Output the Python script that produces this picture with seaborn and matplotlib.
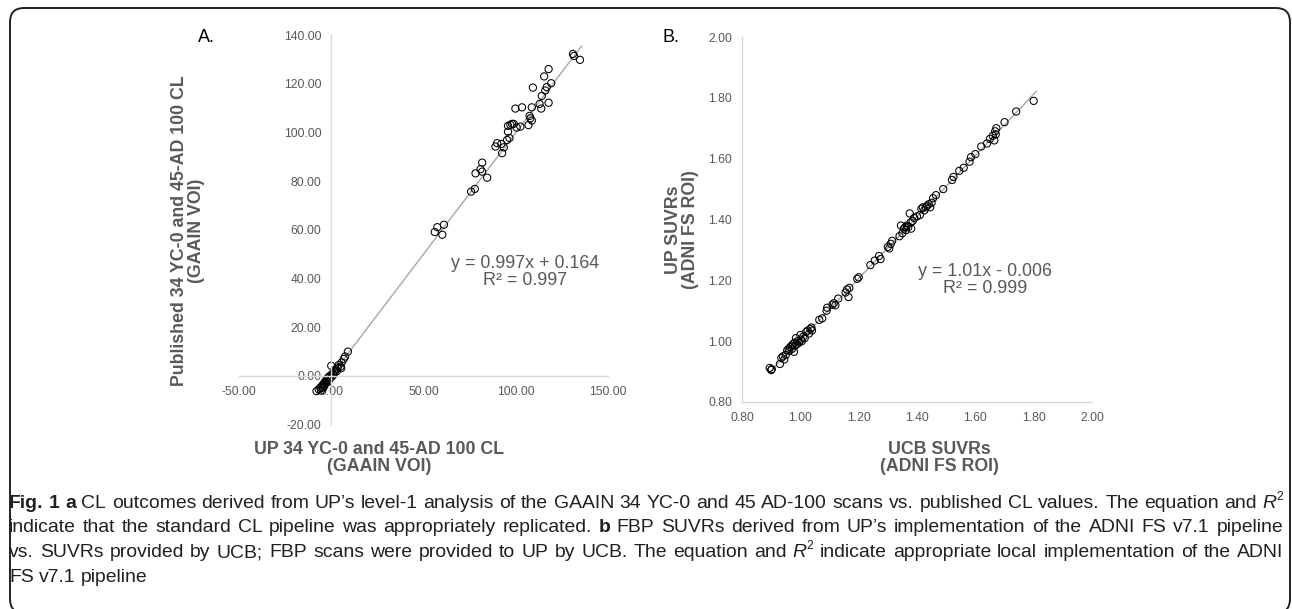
import numpy as np
import pandas as pd
import matplotlib
matplotlib.use("Agg")
import matplotlib.pyplot as plt
import seaborn as sns
from matplotlib.patches import FancyBboxPatch
from matplotlib.transforms import IdentityTransform
from matplotlib import font_manager

# ---------------- data ----------------
# Panel A: 34 YC-0 scans (near 0) and 45 AD-100 scans
yc_x = [-8.0, -6.8, -6.0, -5.5, -5.2, -4.8, -4.5, -4.0, -3.8, -3.5, -3.0, -2.8, -2.5, -2.0,
        -1.8, -1.5, -1.0, -0.5, 0.0, 0.3, 0.8, 1.2, 1.5, 2.0, 2.5, 3.0, 3.5, 4.0, 5.0, 5.4,
        5.6, 6.8, 7.5, 9.0]
yc_y = [-6.2, -5.5, -4.8, -6.0, -4.5, -3.8, -5.0, -3.2, -4.2, -2.5, -3.0, -1.8, -2.2, -1.0,
        -2.5, -0.5, -1.5, 0.2, 4.2, -0.3, 1.0, 0.5, 2.0, 1.5, 2.8, 2.0, 3.5, 4.5, 3.8, 3.2,
        5.5, 7.0, 8.0, 10.0]
ad_x = [131.0, 131.6, 134.8, 117.8, 115.4, 109.3, 119.2, 116.8, 116.0, 114.1, 117.8, 112.9,
        113.8, 108.7, 103.4, 99.8, 107.5, 107.9, 108.7, 106.9, 102.5, 98.0, 98.9, 97.1, 95.8,
        95.3, 96.6, 92.2, 89.9, 89.0, 93.5, 92.6, 81.8, 80.9, 78.2, 81.8, 84.5, 75.8, 77.8,
        57.5, 56.1, 60.2, 61.1, 95.8, 100.5]
ad_y = [132.2, 131.4, 129.8, 126.0, 123.0, 118.4, 120.2, 118.6, 117.2, 115.0, 112.2, 111.7,
        109.8, 110.3, 110.3, 109.8, 106.8, 105.8, 104.9, 103.0, 102.4, 103.5, 103.5, 103.1, 100.3,
        96.9, 97.7, 95.3, 95.6, 94.2, 93.9, 91.5, 87.6, 84.9, 83.2, 83.9, 81.4, 75.7, 76.8,
        61.1, 59.1, 58.0, 62.1, 102.7, 102.0]
a_slope, a_intercept, a_r2 = 0.997, 0.164, 0.997

# Panel B: UCB vs UP SUVRs
b_x = [0.895, 0.900, 0.902, 0.930, 0.935, 0.940, 0.945, 0.950, 0.955, 0.960, 0.962, 0.965,
       0.970, 0.972, 0.975, 0.978, 0.980, 0.982, 0.985, 0.988, 0.990, 0.995, 1.000, 1.002,
       1.005, 1.010, 1.015, 1.020, 1.025, 1.030, 1.035, 1.038, 1.040,
       1.065, 1.075, 1.090, 1.092, 1.110, 1.115, 1.120, 1.130, 1.155, 1.160, 1.165, 1.168,
       1.195, 1.200, 1.240, 1.255, 1.270, 1.275, 1.300, 1.305, 1.310, 1.315,
       1.340, 1.345, 1.350, 1.355, 1.360, 1.362, 1.365, 1.370, 1.375, 1.378, 1.380, 1.385,
       1.390, 1.400, 1.410, 1.415, 1.420, 1.425, 1.430, 1.435, 1.440, 1.445, 1.450, 1.455,
       1.465, 1.490, 1.520, 1.525, 1.545, 1.560, 1.580, 1.585, 1.600, 1.620, 1.640, 1.650,
       1.660, 1.665, 1.668, 1.670, 1.672, 1.700, 1.740, 1.800]
b_y = [0.912, 0.905, 0.908, 0.925, 0.945, 0.950, 0.940, 0.955, 0.970, 0.975, 0.968, 0.980,
       0.985, 0.975, 0.990, 0.965, 0.995, 0.985, 1.010, 0.990, 1.000, 0.995, 1.020, 1.005,
       1.000, 1.015, 1.010, 1.030, 1.035, 1.025, 1.040, 1.045, 1.035,
       1.070, 1.075, 1.100, 1.110, 1.120, 1.125, 1.118, 1.140, 1.160, 1.170, 1.145, 1.175,
       1.205, 1.210, 1.250, 1.265, 1.280, 1.270, 1.310, 1.305, 1.320, 1.330,
       1.345, 1.380, 1.355, 1.370, 1.375, 1.365, 1.380, 1.375, 1.420, 1.390, 1.370, 1.395,
       1.405, 1.410, 1.415, 1.435, 1.440, 1.430, 1.440, 1.445, 1.450, 1.440, 1.455, 1.470,
       1.480, 1.500, 1.530, 1.540, 1.560, 1.570, 1.590, 1.605, 1.615, 1.640, 1.650, 1.665,
       1.675, 1.660, 1.690, 1.680, 1.700, 1.720, 1.755, 1.790]
b_slope, b_intercept, b_r2 = 1.01, -0.006, 0.999

a_xticks = [-50, 0, 50, 100, 150]
a_yticks = [-20, 0, 20, 40, 60, 80, 100, 120, 140]
b_ticks = [0.8, 1.0, 1.2, 1.4, 1.6, 1.8, 2.0]

a_xlabel = "UP 34 YC-0 and 45-AD 100 CL\n(GAAIN VOI)"
a_ylabel = "Published 34 YC-0 and 45-AD 100 CL\n(GAAIN VOI)"
b_xlabel = "UCB SUVRs\n(ADNI FS ROI)"
b_ylabel = "UP SUVRs\n(ADNI FS ROI)"

caption = [
    [("Fig. 1 a", "b"), (" CL outcomes derived from UP\u2019s level-1 analysis of the GAAIN 34 YC-0 and "
      "45 AD-100 scans vs. published CL values. The equation and ", "n"), ("R", "i"), ("2", "s")],
    [("indicate that the standard CL pipeline was appropriately replicated. ", "n"), ("b", "b"),
     (" FBP SUVRs derived from UP\u2019s implementation of the ADNI FS v7.1 pipeline", "n")],
    [("vs. SUVRs provided by UCB; FBP scans were provided to UP by UCB. The equation and ", "n"),
     ("R", "i"), ("2", "s"), (" indicate appropriate local implementation of the ADNI", "n")],
    [("FS v7.1 pipeline", "n")],
]

# ---------------- style ----------------
sns.set_theme(style="white")
plt.rcParams["font.family"] = ["Liberation Sans", "DejaVu Sans"]
GRAY = "#595959"
SPINE = "#d9d9d9"

W, H = 1292, 609
fig = plt.figure(figsize=(W / 100, H / 100), dpi=100)


def px_axes(l, r, t, b):
    return fig.add_axes([l / W, 1 - b / H, (r - l) / W, (b - t) / H])


dfA = pd.DataFrame({"x": yc_x + ad_x, "y": yc_y + ad_y})
dfB = pd.DataFrame({"x": b_x, "y": b_y})

# ---------------- panel A ----------------
axA = px_axes(239, 608, 35, 424.7)
xr = np.array([dfA.x.min(), dfA.x.max() + 1])
axA.plot(xr, a_slope * xr + a_intercept, color="#a6a6a6", lw=1.0, zorder=1)
sns.scatterplot(data=dfA, x="x", y="y", ax=axA, s=27, facecolor="none",
                edgecolor="black", linewidth=0.75, zorder=2)
axA.set_xlim(-50, 150)
axA.set_ylim(-20, 140)
axA.set_xticks(a_xticks)
axA.set_yticks(a_yticks)
axA.set_xticklabels([f"{v:.2f}" for v in a_xticks])
axA.set_yticklabels([f"{v:.2f}" for v in a_yticks])
axA.spines["left"].set_position(("data", 0))
axA.spines["bottom"].set_position(("data", 0))
for s in ["top", "right"]:
    axA.spines[s].set_visible(False)
for s in ["left", "bottom"]:
    axA.spines[s].set_color(SPINE)
    axA.spines[s].set_linewidth(1.0)
axA.tick_params(length=0, pad=7, labelsize=8.7, labelcolor=GRAY)
axA.set_xlabel("")
axA.set_ylabel("")
axA.patch.set_alpha(0)
axA.text(105.3, 42.7, f"y = {a_slope}x + {a_intercept}\nR\u00b2 = {a_r2}", ha="center",
         va="center", fontsize=12.9, color=GRAY, linespacing=1.0)

# ---------------- panel B ----------------
axB = px_axes(742, 1092, 37, 402)
xr = np.array([dfB.x.min(), dfB.x.max() + 0.01])
axB.plot(xr, b_slope * xr + b_intercept, color="#a6a6a6", lw=1.0, zorder=1)
sns.scatterplot(data=dfB, x="x", y="y", ax=axB, s=27, facecolor="none",
                edgecolor="black", linewidth=0.75, zorder=2)
axB.set_xlim(0.8, 2.0)
axB.set_ylim(0.8, 2.0)
axB.set_xticks(b_ticks)
axB.set_yticks(b_ticks)
axB.set_xticklabels([f"{v:.2f}" for v in b_ticks])
axB.set_yticklabels([f"{v:.2f}" for v in b_ticks])
for s in ["top", "right"]:
    axB.spines[s].set_visible(False)
for s in ["left", "bottom"]:
    axB.spines[s].set_color(SPINE)
    axB.spines[s].set_linewidth(1.0)
axB.tick_params(length=0, pad=7, labelsize=8.7, labelcolor=GRAY)
axB.set_xlabel("")
axB.set_ylabel("")
axB.patch.set_alpha(0)
sign = "-" if b_intercept < 0 else "+"
axB.text(1.632, 1.200, f"y = {b_slope}x {sign} {abs(b_intercept)}\nR\u00b2 = {b_r2}",
         ha="center", va="center", fontsize=12.9, color=GRAY, linespacing=1.0)

# ---------------- titles / labels ----------------
ID = IdentityTransform()


def ftext(x, y, s, **kw):
    return fig.text(x, H - y, s, transform=ID, **kw)


ftext(198, 38, "A.", fontsize=13, color="black", ha="left", va="center")
ftext(663, 37, "B.", fontsize=13, color="black", ha="left", va="center")
lab = dict(fontsize=12.8, fontweight="bold", color=GRAY, ha="center", va="center",
           linespacing=1.05, multialignment="center")
ftext(188, 231, a_ylabel, rotation=90, **lab)
ftext(379, 458, a_xlabel, **lab)
ftext(682, 230, b_ylabel, rotation=90, **lab)
ftext(939, 458, b_xlabel, **lab)

# ---------------- caption ----------------
names = {f.name for f in font_manager.fontManager.ttflist}
capfam = ["Liberation Sans Narrow"] if "Liberation Sans Narrow" in names else ["Liberation Sans"]
renderer = fig.canvas.get_renderer()


def style_kw(st, size):
    kw = dict(fontsize=size, family=capfam, color="#231f20")
    if st == "b":
        kw["fontweight"] = "bold"
    if st == "i":
        kw["fontstyle"] = "italic"
    if st == "s":
        kw["fontsize"] = size * 0.62
    return kw


def measure(s, st, size):
    t = fig.text(0, 0, s, transform=ID, **style_kw(st, size))
    w = t.get_window_extent(renderer).width
    t.remove()
    return w


def words_of(segs):
    words = [[]]
    for text, st in segs:
        parts = text.split(" ")
        for i, p in enumerate(parts):
            if i > 0:
                words.append([])
            if p:
                words[-1].append((p, st))
    return [w for w in words if w]


def word_width(word, size):
    return sum(measure(p, st, size) for p, st in word)


X0, X1 = 9, 1283
base = 10.0
wl = words_of(caption[0])
sp = measure("a a", "n", base) - measure("aa", "n", base)
nat = sum(word_width(w, base) for w in wl) + sp * (len(wl) - 1)
size = base * (X1 - X0) / nat
sp = measure("a a", "n", size) - measure("aa", "n", size)

baselines = [508, 532.5, 557, 581.5]
for li, segs in enumerate(caption):
    words = words_of(segs)
    widths = [word_width(w, size) for w in words]
    if li < 3:
        gap = ((X1 - X0) - sum(widths)) / (len(words) - 1)
    else:
        gap = sp
    x = X0
    for w, ww in zip(words, widths):
        xx = x
        for p, st in w:
            yb = baselines[li] - (size * 1.39 * 0.42 if st == "s" else 0)
            fig.text(xx, H - yb, p, transform=ID, ha="left", va="baseline",
                     **style_kw(st, size))
            xx += measure(p, st, size)
        x += ww + gap

# ---------------- frame ----------------
frame = FancyBboxPatch((10, -4), 1280, H - 8 + 4, boxstyle="round,pad=0,rounding_size=14",
                       transform=ID, fill=False, lw=1.4, ec="#222222")
fig.add_artist(frame)

fig.savefig("out.png", dpi=100)
